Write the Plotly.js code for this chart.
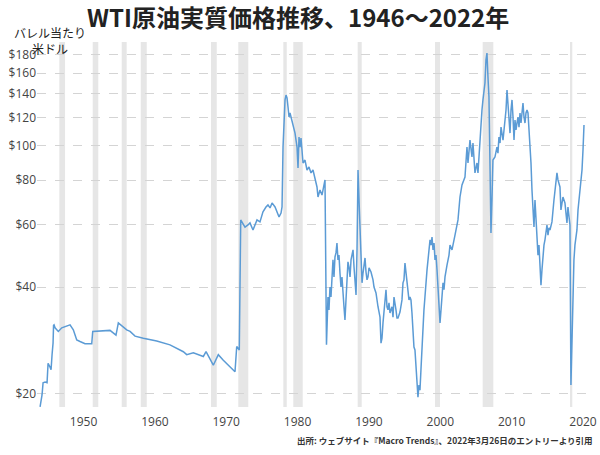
<!DOCTYPE html>
<html>
<head>
<meta charset="utf-8">
<script src="https://cdn.plot.ly/plotly-3.0.1.min.js"></script>
<style>
  html, body { margin: 0; padding: 0; background: #ffffff; }
  #chart { width: 600px; height: 455px; }
</style>
</head>
<body>
<div id="chart"></div>
<script>
// Decimal year positions as read against the chart's own x axis labels
const years = [
  1943.91, 1944.19, 1944.33, 1944.61, 1944.89, 1945.03, 1945.31, 1945.45, 1945.59, 1945.73,
  1945.80, 1945.87, 1946.01, 1946.47, 1946.95, 1948.11, 1948.57, 1949.05, 1949.51, 1950.21,
  1951.15, 1951.29, 1953.71, 1954.55, 1954.88, 1955.58, 1956.05, 1956.52, 1957.22, 1958.38,
  1960.26, 1962.12, 1963.99, 1964.46, 1965.39, 1966.79, 1967.17, 1968.19, 1968.89, 1969.59,
  1970.53, 1971.23, 1971.47, 1971.83, 1972.03,
  1972.21, 1972.63, 1973.05, 1973.33, 1973.75, 1974.31, 1974.73, 1975.15, 1975.57, 1975.85,
  1976.14, 1976.42, 1976.84, 1977.12, 1977.40, 1977.68, 1977.82, 1977.96, 1978.10, 1978.24,
  1978.38, 1978.52, 1978.66, 1978.80, 1978.94, 1979.08, 1979.36, 1979.64, 1979.92, 1980.06,
  1980.20, 1980.34, 1980.48, 1980.76, 1981.04, 1981.32, 1981.60, 1981.88, 1982.16, 1982.44,
  1982.72, 1982.86, 1983.14, 1983.42, 1983.70, 1983.84,
  1984.05, 1984.26, 1984.40, 1984.54, 1984.68, 1984.82, 1984.96, 1985.10, 1985.24, 1985.38,
  1985.52, 1985.66, 1985.80, 1985.94, 1986.08, 1986.22, 1986.36, 1986.50, 1986.64, 1986.78,
  1986.92, 1987.06, 1987.20, 1987.35, 1987.49, 1987.63, 1987.77, 1987.91, 1988.05, 1988.19,
  1988.33, 1988.47, 1988.61, 1988.75, 1988.89, 1989.03, 1989.17, 1989.31, 1989.45, 1989.59,
  1989.73, 1989.87, 1990.01, 1990.29, 1990.57, 1990.71, 1990.99, 1991.27, 1991.55, 1991.69,
  1991.83, 1991.97, 1992.11, 1992.25, 1992.39, 1992.53, 1992.67, 1992.81, 1992.95, 1993.23,
  1993.37, 1993.51, 1993.65, 1993.79, 1993.93, 1994.07, 1994.35, 1994.49, 1994.63, 1994.77,
  1994.91, 1995.05, 1995.19, 1995.33, 1995.47, 1995.61, 1995.75, 1995.89, 1996.03, 1996.17,
  1996.31, 1996.45, 1996.59, 1996.73, 1996.87, 1997.01, 1997.15, 1997.29, 1997.43, 1997.57,
  1997.71, 1997.85, 1997.99, 1998.14, 1998.28, 1998.42, 1998.56, 1998.70, 1998.84, 1998.98,
  1999.12, 1999.26, 1999.40, 1999.54, 1999.68, 1999.82, 1999.96, 2000.10, 2000.24, 2000.38,
  2000.52, 2000.66, 2000.94, 2001.22, 2001.36, 2001.64, 2002.06, 2002.48, 2002.76, 2003.04,
  2003.46, 2003.74, 2003.88, 2004.16, 2004.44, 2004.58, 2004.86, 2005.14, 2005.28, 2005.56,
  2005.84, 2005.98, 2006.26, 2006.40, 2006.54, 2006.68, 2006.82, 2006.96, 2007.10, 2007.24,
  2007.38, 2007.66, 2007.94, 2008.08, 2008.22, 2008.37, 2008.51, 2008.79, 2008.93, 2009.07,
  2009.21, 2009.35, 2009.49, 2009.63, 2009.77, 2009.91, 2010.05, 2010.19, 2010.33, 2010.47,
  2010.61, 2010.75, 2010.89, 2011.03, 2011.17, 2011.31, 2011.45, 2011.59, 2011.73, 2011.87,
  2012.01, 2012.15, 2012.29, 2012.43, 2012.57, 2012.71, 2012.85, 2012.99, 2013.13, 2013.27,
  2013.41, 2013.55, 2013.69, 2013.83, 2013.97, 2014.11, 2014.25, 2014.39, 2014.53, 2014.67,
  2014.81, 2014.95, 2015.09, 2015.23, 2015.37, 2015.65, 2015.93, 2016.07, 2016.21, 2016.35,
  2016.49, 2016.77, 2016.91, 2017.19, 2017.47, 2017.75, 2017.89, 2018.03, 2018.17, 2018.31,
  2018.45, 2018.59, 2018.73, 2018.87, 2019.01, 2019.15, 2019.30, 2019.44, 2019.58, 2019.72,
  2019.86, 2020.00, 2020.14
];

// Real WTI price, US dollars per barrel
const prices = [
  18.4, 19.9, 21.5, 21.6, 21.5, 24.4, 23.8, 23.4, 25.8, 27.8,
  31.2, 31.3, 30.7, 30.0, 30.7, 31.3, 30.3, 28.4, 28.1, 27.7,
  27.7, 30.0, 30.2, 29.3, 31.7, 30.9, 30.3, 30.0, 29.1, 28.7,
  28.2, 27.5, 26.3, 25.8, 26.1, 25.5, 26.3, 24.1, 25.8, 24.9,
  23.9, 23.1, 27.2, 26.6, 61.8,
  61.0, 59.0, 59.8, 60.6, 57.9, 61.8, 61.0, 65.1, 67.2, 68.1,
  66.8, 69.0, 67.2, 64.6, 63.0, 64.6, 67.2, 99.1, 118.1, 134.5,
  138.8, 136.2, 128.5, 120.4, 123.6, 120.4, 112.8, 108.5, 99.1, 86.5,
  105.8, 99.1, 105.1, 89.4, 91.1, 85.4, 87.1, 83.8, 85.4, 80.1,
  76.5, 71.7, 75.0, 72.6, 79.0, 80.1,
  27.5, 37.5, 34.5, 40.0, 37.5, 42.7, 47.7, 42.7, 48.6, 49.9,
  53.2, 47.7, 49.2, 43.8, 40.0, 42.7, 37.5, 35.2, 32.3, 36.8,
  41.9, 47.1, 45.5, 42.7, 47.7, 49.2, 50.9, 45.5, 41.1, 38.0,
  50.9, 85.4, 70.3, 56.8, 45.5, 41.1, 43.8, 46.1, 48.3, 44.1,
  41.9, 42.7, 45.3, 44.1, 41.9, 40.0, 38.5, 35.2, 32.9, 27.8,
  28.7, 31.7, 34.5, 36.8, 39.3, 35.2, 34.5, 36.1, 33.8, 35.2,
  32.9, 37.5, 35.2, 34.5, 32.7, 32.7, 34.0, 36.1, 36.8, 41.1,
  41.9, 46.7, 43.8, 41.1, 37.5, 36.8, 37.5, 36.8, 33.8, 29.3,
  27.1, 26.6, 24.1, 21.5, 19.6, 21.2, 20.5, 23.4, 27.5, 31.7,
  34.5, 37.5, 41.9, 44.7, 47.7, 50.9, 54.3, 52.5, 55.3, 50.9,
  53.2, 47.7, 49.2, 44.7, 40.5, 36.8, 31.7, 34.5, 39.3, 41.1,
  39.3, 42.7, 46.1, 49.2, 52.5, 50.9, 56.0, 61.8, 71.7, 77.5,
  81.6, 99.1, 89.4, 103.7, 92.9, 101.7, 83.8, 89.4, 83.8, 105.8,
  126.0, 134.5, 150.1, 174.2, 182.3, 156.1, 137.1, 89.4, 56.8, 70.3,
  91.1, 92.9, 99.1, 95.3, 105.8, 101.7, 112.8, 103.7, 110.7, 115.8,
  126.0, 143.4, 128.5, 115.8, 108.5, 126.0, 134.5, 120.4, 103.7, 118.1,
  110.7, 115.8, 120.4, 112.8, 123.6, 115.8, 126.0, 131.9, 120.4, 115.8,
  123.6, 126.0, 123.6, 112.8, 101.7, 89.4, 75.0, 63.0, 59.0, 70.3,
  63.0, 54.3, 49.2, 52.5, 46.1, 40.5, 44.7, 49.2, 52.5, 54.3,
  57.9, 59.8, 56.0, 58.7, 57.9, 61.0, 70.3, 75.0, 80.1, 83.8,
  80.1, 76.5, 65.9, 71.7, 69.0, 60.6, 67.2, 63.8, 59.8, 21.2,
  30.3, 39.3, 47.7, 52.5, 55.3, 57.9, 65.9, 70.3, 75.0, 80.1,
  85.4, 97.2, 114.3
];

// Shaded (recession) periods, start and end, in the chart's x units
const recStart = [1946.61, 1951.29, 1955.35, 1958.02, 1967.87, 1971.69, 1978.00, 1979.40, 1988.42, 1999.26, 2005.94, 2018.18];
const recEnd   = [1947.41, 1952.07, 1956.05, 1958.86, 1968.67, 1973.09, 1978.48, 1980.72, 1988.99, 1999.96, 2007.43, 2018.50];

const yTickVals = [20, 40, 60, 80, 100, 120, 140, 160, 180];
const yTickText = ["$20", "$40", "$60", "$80", "$100", "$120", "$140", "$160", "$180"];
const xTickVals = [1950, 1960, 1970, 1980, 1990, 2000, 2010, 2020];
const xTickText = ["1950", "1960", "1970", "1980", "1990", "2000", "2010", "2020"];

const titleText = "WTI原油実質価格推移、1946～2022年";
const yTitleText = "バレル当たり<br>米ドル";
const sourceText = "出所: ウェブサイト『Macro Trends』、2022年3月26日のエントリーより引用";

const shapes = recStart.map((s, i) => ({
  type: "rect", xref: "x", yref: "paper",
  x0: s, x1: recEnd[i], y0: 0, y1: 1,
  fillcolor: "#e6e6e6", line: { width: 0 }, layer: "below"
}));

const trace = {
  x: years, y: prices, type: "scatter", mode: "lines",
  line: { color: "#5b9bd5", width: 1.5 },
  hoverinfo: "skip"
};

const layout = {
  width: 600, height: 455,
  margin: { l: 37, r: 14, t: 42, b: 48 },
  paper_bgcolor: "#ffffff", plot_bgcolor: "rgba(0,0,0,0)",
  showlegend: false,
  title: {
    text: titleText, xref: "container", x: 0.497, xanchor: "center",
    yref: "container", y: 0.96, yanchor: "middle",
    font: { family: "Noto Sans CJK JP, Noto Sans, sans-serif", size: 24, color: "#222222", weight: 700 }
  },
  xaxis: {
    range: [1943.48, 2020.42],
    tickmode: "array", tickvals: xTickVals, ticktext: xTickText,
    showgrid: false, zeroline: false, showline: false,
    ticks: "outside", ticklen: 4, tickcolor: "rgba(0,0,0,0)",
    tickfont: { family: "Open Sans, sans-serif", size: 12, color: "#444444" }
  },
  yaxis: {
    type: "log",
    range: [Math.log10(18.38), Math.log10(195.8)],
    tickmode: "array", tickvals: yTickVals, ticktext: yTickText,
    showgrid: true, gridcolor: "#d4d4d4", gridwidth: 1, griddash: "dash",
    zeroline: false, showline: false, ticks: "",
    tickfont: { family: "Open Sans, sans-serif", size: 12, color: "#444444" }
  },
  shapes: shapes,
  annotations: [
    {
      text: yTitleText, xref: "paper", yref: "paper",
      x: 0.024, y: 1.005, xanchor: "center", yanchor: "middle", align: "center",
      showarrow: false,
      font: { family: "Noto Sans CJK JP, sans-serif", size: 12, color: "#222222" }
    },
    {
      text: sourceText, xref: "paper", yref: "paper",
      x: 1.016, y: -0.09, xanchor: "right", yanchor: "middle",
      showarrow: false,
      font: { family: "Noto Sans CJK JP, sans-serif", size: 8.5, color: "#333333", weight: 700 }
    }
  ]
};

Plotly.newPlot("chart", [trace], layout, { displayModeBar: false, staticPlot: true });
</script>
</body>
</html>
